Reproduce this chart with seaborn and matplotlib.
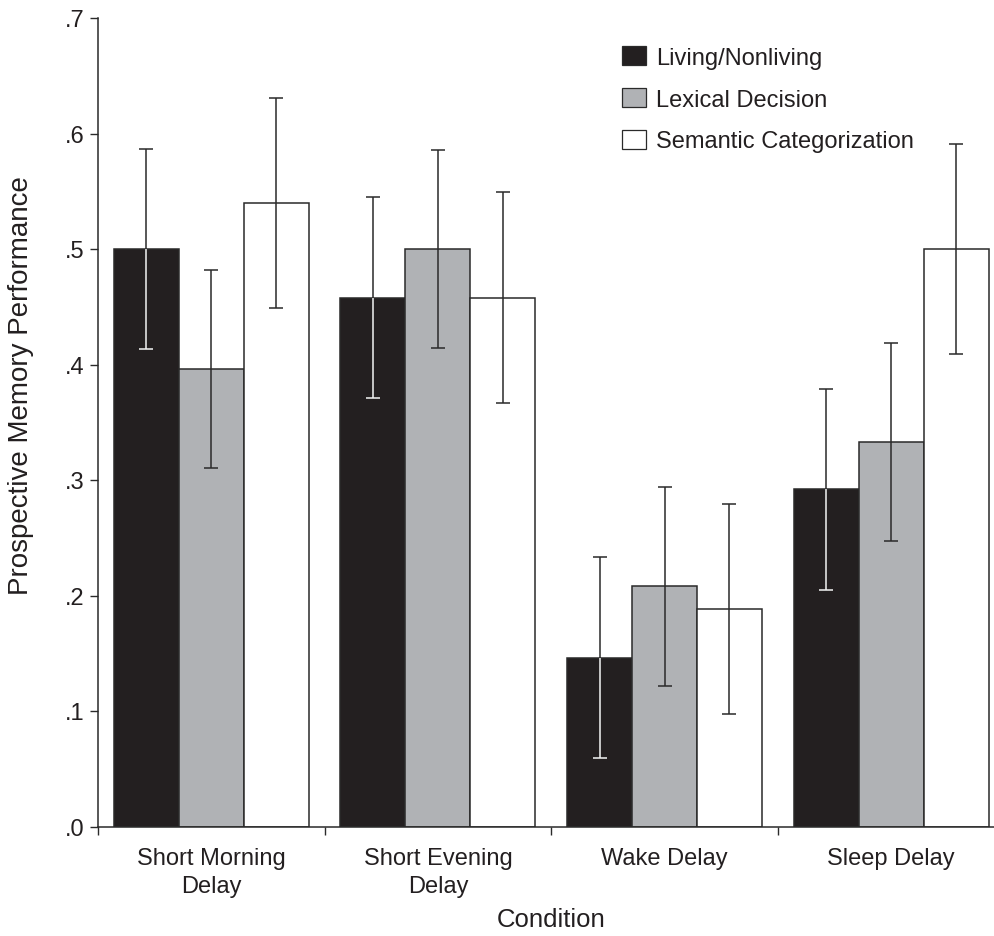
import matplotlib
matplotlib.use("Agg")
import matplotlib.pyplot as plt
from matplotlib.patches import Patch
import seaborn as sns
import pandas as pd

conditions = ["Short Morning\nDelay", "Short Evening\nDelay", "Wake Delay", "Sleep Delay"]
tasks = ["Living/Nonliving", "Lexical Decision", "Semantic Categorization"]
living = [0.500, 0.458, 0.146, 0.292]
lexical = [0.396, 0.500, 0.208, 0.333]
semantic = [0.540, 0.458, 0.188, 0.500]
err_living = [0.087, 0.087, 0.087, 0.087]
err_lexical = [0.086, 0.086, 0.086, 0.086]
err_semantic = [0.091, 0.091, 0.091, 0.091]
ytick_vals = [0.0, 0.1, 0.2, 0.3, 0.4, 0.5, 0.6, 0.7]
ytick_labels = [".0", ".1", ".2", ".3", ".4", ".5", ".6", ".7"]

colors = ["#231f20", "#b0b2b5", "#ffffff"]
edge = "#2a2a2a"
txt = "#231f20"
light = "#f2f2f2"

sns.set_style("ticks")
plt.rcParams["font.family"] = ["Liberation Sans", "DejaVu Sans"]

rows = []
for t, vals in zip(tasks, [living, lexical, semantic]):
    for c, v in zip(conditions, vals):
        rows.append({"Condition": c, "Task": t, "Performance": v})
df = pd.DataFrame(rows)

fig = plt.figure(figsize=(9.94, 9.37), dpi=100)
ax = fig.add_axes([98 / 994, (937 - 827.5) / 937, 4 * 226.6 / 994, (827.5 - 19) / 937])

sns.barplot(data=df, x="Condition", y="Performance", hue="Task",
            order=conditions, hue_order=tasks, palette=colors,
            width=0.86, errorbar=None, edgecolor=edge, linewidth=1.1,
            saturation=1, legend=False, ax=ax)

errs = [err_living, err_lexical, err_semantic]
bar_conts = list(ax.containers)[:3]
cap_ms = 9.4
for k, cont in enumerate(bar_conts):
    for bar, e in zip(cont, errs[k]):
        xc = bar.get_x() + bar.get_width() / 2
        h = bar.get_height()
        # full error bar in dark
        ax.errorbar([xc], [h], yerr=[[e], [e]], fmt="none", ecolor=edge,
                    elinewidth=1.1, capsize=cap_ms / 2, capthick=1.1, zorder=5)
        if k == 0:
            # part inside the black bar drawn light
            ax.vlines([xc], h - e, h, colors=light, linewidth=1.1, zorder=6)
            ax.plot([xc], [h - e], marker="_", markersize=cap_ms,
                    markeredgewidth=1.1, color=light, zorder=6)

ax.set_xlim(-0.5, 3.5)
ax.set_ylim(0, 0.7)
ax.set_yticks(ytick_vals)
ax.set_yticklabels(ytick_labels)
ax.set_xticks(range(len(conditions)))
ax.set_xticklabels(conditions, linespacing=1.38)
ax.set_xticks([-0.5, 0.5, 1.5, 2.5], minor=True)

ax.tick_params(axis="x", which="major", length=0, pad=14.5, labelsize=17, labelcolor=txt)
ax.tick_params(axis="x", which="minor", length=5.5, width=1.0, color=edge, direction="out")
ax.tick_params(axis="y", length=5.5, width=1.0, color=edge, direction="out",
               labelsize=17, labelcolor=txt, pad=4)

for s in ["top", "right"]:
    ax.spines[s].set_visible(False)
for s in ["left", "bottom"]:
    ax.spines[s].set_linewidth(1.1)
    ax.spines[s].set_color(edge)

ax.set_xlabel("Condition", fontsize=18.5, color=txt)
ax.xaxis.set_label_coords(0.5, -0.1)
ax.set_ylabel("Prospective Memory Performance", fontsize=20, color=txt)
ax.yaxis.set_label_coords(-0.0706, 0.547)

handles = [Patch(facecolor=c, edgecolor=edge, linewidth=0.9) for c in colors]
fig.legend(handles, tasks, loc="upper left",
           bbox_to_anchor=(622 / 994, 1 - 47 / 937), bbox_transform=fig.transFigure,
           frameon=False, fontsize=17, borderpad=0, borderaxespad=0,
           handlelength=1.0, handleheight=0.85, handletextpad=0.45,
           labelspacing=0.82, labelcolor=txt)

fig.savefig("out.png", dpi=100)
